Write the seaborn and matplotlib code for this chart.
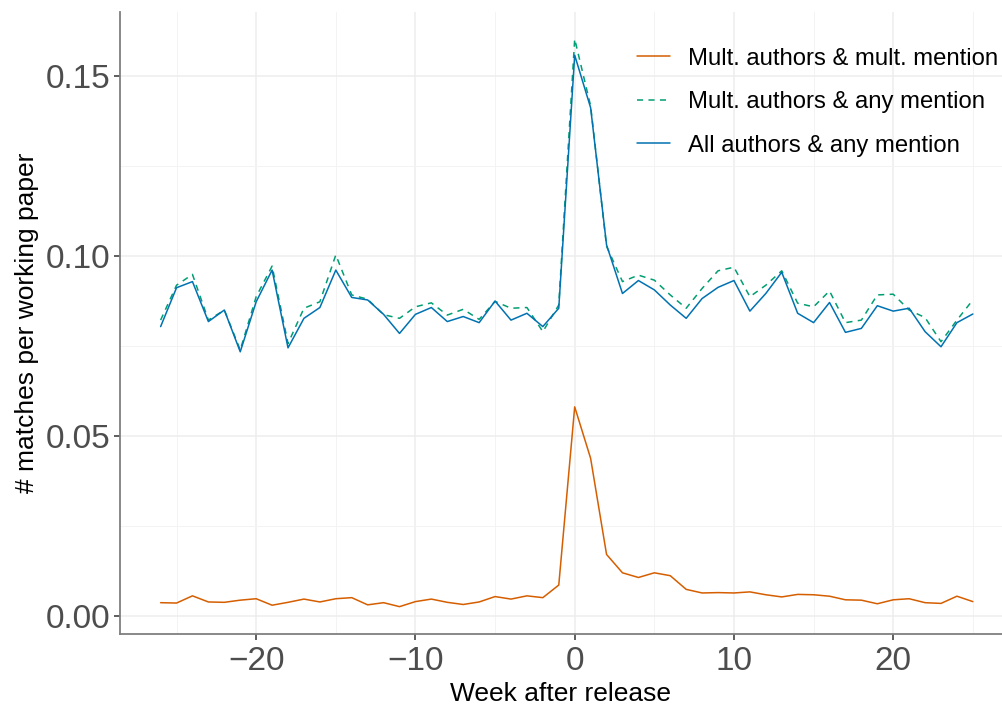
import matplotlib
matplotlib.use("Agg")
import matplotlib.pyplot as plt
import numpy as np
import pandas as pd
import seaborn as sns
from matplotlib.ticker import MultipleLocator

weeks = list(range(-26, 26))

# Mult. authors & mult. mention
mult_mult = [0.0037, 0.0036, 0.0056, 0.0039, 0.0038, 0.0044, 0.0048, 0.0030, 0.0038, 0.0047,
             0.0039, 0.0048, 0.0051, 0.0031, 0.0037, 0.0026, 0.0040, 0.0047, 0.0038, 0.0032,
             0.0039, 0.0054, 0.0047, 0.0056, 0.0051, 0.0086, 0.0581, 0.0438, 0.0171, 0.0120,
             0.0107, 0.0120, 0.0112, 0.0074, 0.0064, 0.0065, 0.0064, 0.0067, 0.0059, 0.0053,
             0.0060, 0.0059, 0.0055, 0.0045, 0.0044, 0.0034, 0.0045, 0.0048, 0.0037, 0.0035,
             0.0055, 0.0040]

# Mult. authors & any mention
mult_any = [0.0822, 0.0919, 0.0949, 0.0822, 0.0850, 0.0739, 0.0887, 0.0972, 0.0757, 0.0855,
            0.0873, 0.1003, 0.0892, 0.0880, 0.0837, 0.0827, 0.0859, 0.0870, 0.0836, 0.0852,
            0.0824, 0.0874, 0.0855, 0.0857, 0.0790, 0.0864, 0.1603, 0.1417, 0.1027, 0.0929,
            0.0947, 0.0933, 0.0892, 0.0855, 0.0910, 0.0959, 0.0969, 0.0887, 0.0919, 0.0959,
            0.0869, 0.0859, 0.0903, 0.0815, 0.0822, 0.0892, 0.0894, 0.0850, 0.0829, 0.0762,
            0.0822, 0.0878]

# All authors & any mention
all_any = [0.0804, 0.0912, 0.0929, 0.0818, 0.0850, 0.0734, 0.0873, 0.0961, 0.0745, 0.0827,
           0.0857, 0.0961, 0.0885, 0.0878, 0.0838, 0.0785, 0.0838, 0.0857, 0.0818, 0.0832,
           0.0815, 0.0875, 0.0822, 0.0841, 0.0804, 0.0855, 0.1558, 0.1412, 0.1031, 0.0896,
           0.0932, 0.0906, 0.0864, 0.0827, 0.0882, 0.0913, 0.0932, 0.0847, 0.0896, 0.0955,
           0.0841, 0.0815, 0.0871, 0.0788, 0.0799, 0.0862, 0.0847, 0.0855, 0.0790, 0.0748,
           0.0815, 0.0839]

labels = ["Mult. authors & mult. mention", "Mult. authors & any mention", "All authors & any mention"]
colors = ["#D55E00", "#009E73", "#0072B2"]

df = pd.concat([
    pd.DataFrame({"week": weeks, "value": mult_mult, "series": labels[0]}),
    pd.DataFrame({"week": weeks, "value": mult_any, "series": labels[1]}),
    pd.DataFrame({"week": weeks, "value": all_any, "series": labels[2]}),
])

sns.set_style("white")
plt.rcParams["font.family"] = ["Liberation Sans", "DejaVu Sans"]

fig = plt.figure(figsize=(10.02, 7.06), dpi=100)
ax = fig.add_axes([120 / 1002, 72 / 706, 882 / 1002, 622 / 706])

sns.lineplot(data=df, x="week", y="value", hue="series", style="series",
             hue_order=labels, style_order=labels,
             palette=dict(zip(labels, colors)),
             dashes={labels[0]: "", labels[1]: (4, 3.5), labels[2]: ""},
             linewidth=1.1, ax=ax)

ax.set_xlim(-28.55, 26.83)
ax.set_ylim(-0.005, 0.1678)
ax.xaxis.set_major_locator(MultipleLocator(10))
ax.xaxis.set_minor_locator(MultipleLocator(5))
ax.yaxis.set_major_locator(MultipleLocator(0.05))
ax.yaxis.set_minor_locator(MultipleLocator(0.025))
ax.yaxis.set_major_formatter(matplotlib.ticker.FormatStrFormatter("%.2f"))
ax.set_axisbelow(True)
ax.grid(which="major", color="#EDEDED", linewidth=1.1)
ax.grid(which="minor", color="#F3F3F3", linewidth=0.7)

for side in ["top", "right"]:
    ax.spines[side].set_visible(False)
for side in ["left", "bottom"]:
    ax.spines[side].set_color("#7F7F7F")
    ax.spines[side].set_linewidth(1.3)

ax.tick_params(which="major", length=4, width=1.1, color="#333333",
               labelsize=24, labelcolor="#4D4D4D", pad=3, bottom=True, left=True)
ax.tick_params(axis="x", which="major", pad=5)
ax.tick_params(which="minor", length=0)

ax.set_xlabel("Week after release", fontsize=19, color="black", labelpad=3)
ax.set_ylabel("# matches per working paper", fontsize=19, color="black", labelpad=5)

leg = ax.legend(loc="upper right", bbox_to_anchor=(1.02, 0.977), frameon=False,
                fontsize=17.2, handlelength=1.4, handletextpad=0.75, labelspacing=0.9,
                title=None)
for t in leg.get_texts():
    t.set_color("black")

fig.savefig("out.png", dpi=100)
